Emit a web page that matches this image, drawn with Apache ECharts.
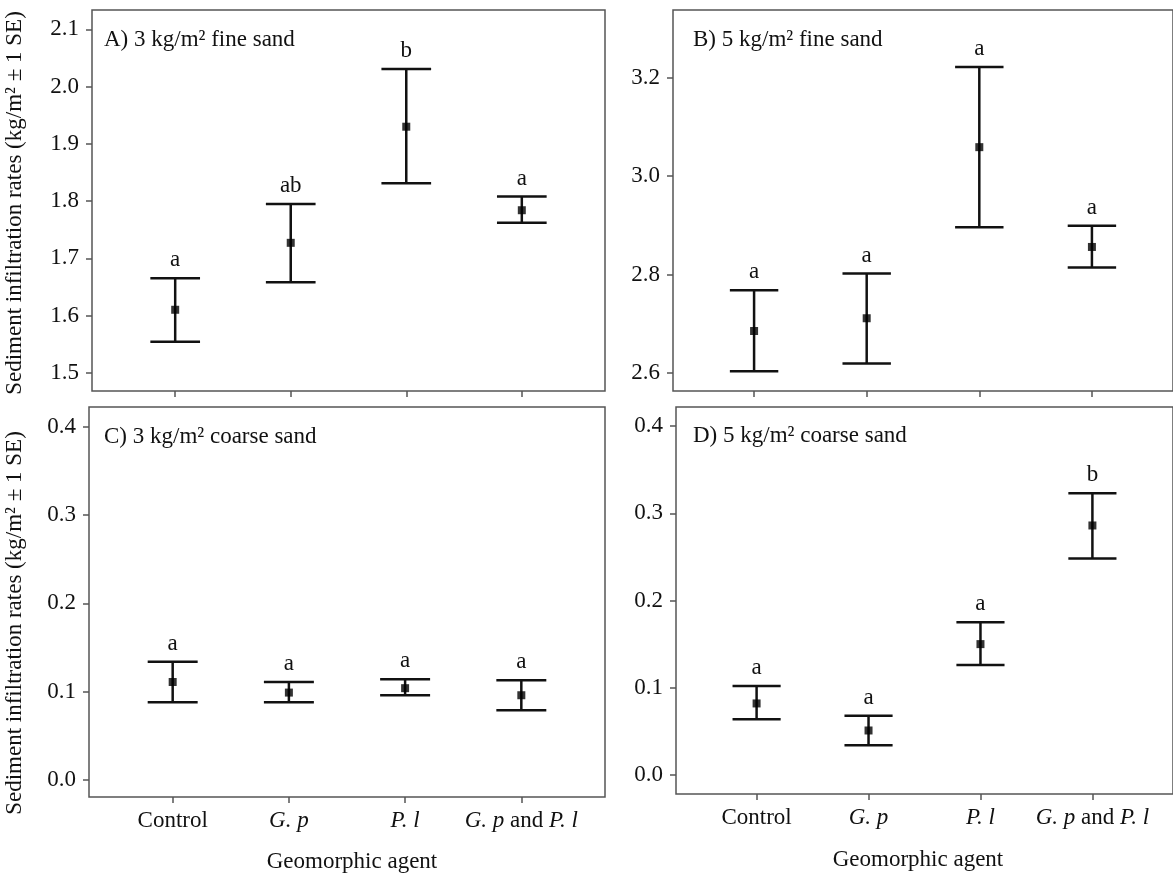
<!DOCTYPE html>
<html>
<head>
<meta charset="utf-8">
<script src="https://cdn.jsdelivr.net/npm/echarts@6/dist/echarts.min.js"></script>
<style>
  html, body { margin: 0; padding: 0; background: #fff; }
  #chart { width: 1173px; height: 875px; }
</style>
</head>
<body>
<div id="chart"></div>
<script>
  // categories on the x axis (positions 1..4)
  var categories = ['Control', 'G. p', 'P. l', 'G. p and P. l']
  var xPos = [1, 2, 3, 4]

  // A) 3 kg/m2 fine sand
  var meanA = [1.610, 1.727, 1.930, 1.784]
  var lowA = [1.554, 1.658, 1.831, 1.762]
  var highA = [1.665, 1.795, 2.031, 1.808]
  var letterA = ['a', 'ab', 'b', 'a']
  var yTicksA = [1.5, 1.6, 1.7, 1.8, 1.9, 2.0, 2.1]

  // B) 5 kg/m2 fine sand
  var meanB = [2.685, 2.711, 3.059, 2.856]
  var lowB = [2.603, 2.619, 2.896, 2.814]
  var highB = [2.768, 2.802, 3.222, 2.899]
  var letterB = ['a', 'a', 'a', 'a']
  var yTicksB = [2.6, 2.8, 3.0, 3.2]

  // C) 3 kg/m2 coarse sand
  var meanC = [0.111, 0.099, 0.104, 0.096]
  var lowC = [0.088, 0.088, 0.096, 0.079]
  var highC = [0.134, 0.111, 0.114, 0.113]
  var letterC = ['a', 'a', 'a', 'a']
  var yTicksC = [0.0, 0.1, 0.2, 0.3, 0.4]

  // D) 5 kg/m2 coarse sand
  var meanD = [0.082, 0.051, 0.150, 0.286]
  var lowD = [0.064, 0.034, 0.126, 0.248]
  var highD = [0.102, 0.068, 0.175, 0.323]
  var letterD = ['a', 'a', 'a', 'b']
  var yTicksD = [0.0, 0.1, 0.2, 0.3, 0.4]

  var FONT = '"Liberation Serif", "Times New Roman", serif'
  var FS = 23
  var TXT = '#111'
  var FRAME = '#555'

  var panels = [
    { grid: { left: 92, top: 10, width: 513, height: 381 }, min: 1.468, max: 2.134,
      mean: meanA, low: lowA, high: highA, letters: letterA, ticks: yTicksA, xLabels: false },
    { grid: { left: 673, top: 10, width: 506, height: 381 }, min: 2.563, max: 3.338,
      mean: meanB, low: lowB, high: highB, letters: letterB, ticks: yTicksB, xLabels: false },
    { grid: { left: 89, top: 407, width: 516, height: 390 }, min: -0.0192, max: 0.4223,
      mean: meanC, low: lowC, high: highC, letters: letterC, ticks: yTicksC, xLabels: true },
    { grid: { left: 676, top: 407, width: 507, height: 387 }, min: -0.0218, max: 0.4218,
      mean: meanD, low: lowD, high: highD, letters: letterD, ticks: yTicksD, xLabels: true }
  ]

  var xRich = ['Control', '{i|G. p}', '{i|P. l}', '{i|G. p} and {i|P. l}']

  var grids = [], xAxes = [], yAxes = [], series = []

  panels.forEach(function (p, i) {
    grids.push(Object.assign({ show: true, borderColor: FRAME, borderWidth: 1.5, containLabel: false }, p.grid))
    xAxes.push({
      type: 'value', gridIndex: i, min: 0.28, max: 4.72,
      axisLine: { show: false, onZero: false }, splitLine: { show: false },
      axisTick: { show: true, customValues: xPos, length: 6, lineStyle: { color: FRAME, width: 1.5 } },
      axisLabel: {
        show: p.xLabels, customValues: xPos, margin: 12,
        fontFamily: FONT, fontSize: FS, color: TXT,
        formatter: function (v) { return xRich[Math.round(v) - 1] },
        rich: { i: { fontStyle: 'italic', fontFamily: FONT, fontSize: FS, color: TXT } }
      }
    })
    yAxes.push({
      type: 'value', gridIndex: i, min: p.min, max: p.max,
      axisLine: { show: false, onZero: false }, splitLine: { show: false },
      axisTick: { show: true, customValues: p.ticks, length: 6, lineStyle: { color: FRAME, width: 1.5 } },
      axisLabel: {
        customValues: p.ticks, margin: 13,
        fontFamily: FONT, fontSize: FS, color: TXT,
        formatter: function (v) { return v.toFixed(1) }
      }
    })
    var errData = xPos.map(function (x, k) { return [x, p.low[k], p.high[k]] })
    series.push({
      type: 'custom', xAxisIndex: i, yAxisIndex: i, data: errData,
      renderItem: function (params, api) {
        var x = api.value(0)
        var lo = api.coord([x, api.value(1)])
        var hi = api.coord([x, api.value(2)])
        var half = api.size([0.43, 0])[0] / 2
        var st = { stroke: '#111', lineWidth: 2.5 }
        return {
          type: 'group',
          children: [
            { type: 'line', shape: { x1: lo[0], y1: lo[1], x2: hi[0], y2: hi[1] }, style: st },
            { type: 'line', shape: { x1: hi[0] - half, y1: hi[1], x2: hi[0] + half, y2: hi[1] }, style: st },
            { type: 'line', shape: { x1: lo[0] - half, y1: lo[1], x2: lo[0] + half, y2: lo[1] }, style: st },
            { type: 'text', x: hi[0], y: hi[1] - 18,
              style: { text: p.letters[params.dataIndex], fill: TXT, font: FS + 'px ' + FONT,
                       textAlign: 'center', textVerticalAlign: 'middle' } }
          ]
        }
      }
    })
    series.push({
      type: 'scatter', xAxisIndex: i, yAxisIndex: i, symbol: 'rect', symbolSize: 8,
      itemStyle: { color: '#000' }, z: 5,
      data: xPos.map(function (x, k) { return [x, p.mean[k]] })
    })
  })

  var titles = [
    { x: 104, y: 40, t: 'A) 3 kg/m² fine sand' },
    { x: 693, y: 40, t: 'B) 5 kg/m² fine sand' },
    { x: 104, y: 437, t: 'C) 3 kg/m² coarse sand' },
    { x: 693, y: 436, t: 'D) 5 kg/m² coarse sand' }
  ]
  var graphics = titles.map(function (o) {
    return { type: 'text', x: o.x, y: o.y,
      style: { text: o.t, fill: TXT, font: FS + 'px ' + FONT, textAlign: 'left', textVerticalAlign: 'middle' } }
  })
  var yName = 'Sediment infiltration rates (kg/m² ± 1 SE)'
  graphics.push({ type: 'text', x: 15, y: 203, rotation: Math.PI / 2,
    style: { text: yName, fill: TXT, font: FS + 'px ' + FONT, textAlign: 'center', textVerticalAlign: 'middle' } })
  graphics.push({ type: 'text', x: 15, y: 623, rotation: Math.PI / 2,
    style: { text: yName, fill: TXT, font: FS + 'px ' + FONT, textAlign: 'center', textVerticalAlign: 'middle' } })
  graphics.push({ type: 'text', x: 352, y: 862,
    style: { text: 'Geomorphic agent', fill: TXT, font: FS + 'px ' + FONT, textAlign: 'center', textVerticalAlign: 'middle' } })
  graphics.push({ type: 'text', x: 918, y: 860,
    style: { text: 'Geomorphic agent', fill: TXT, font: FS + 'px ' + FONT, textAlign: 'center', textVerticalAlign: 'middle' } })

  var option = {
    animation: false,
    grid: grids,
    xAxis: xAxes,
    yAxis: yAxes,
    series: series,
    graphic: graphics
  }

  var dom = echarts.init(document.getElementById('chart'))
  dom.setOption(option)
  window.addEventListener('resize', function () { dom.resize() })
</script>
</body>
</html>
